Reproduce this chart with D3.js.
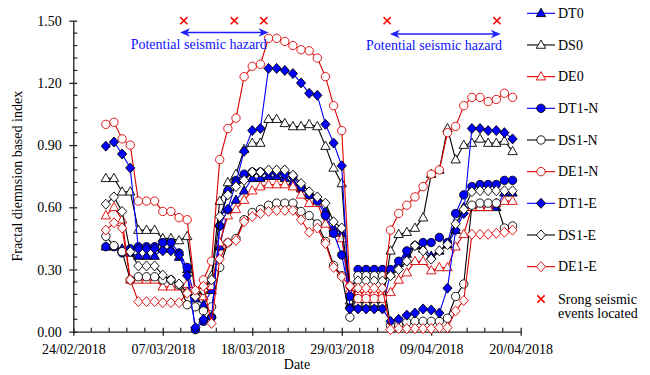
<!DOCTYPE html>
<html>
<head>
<meta charset="utf-8">
<script src="https://cdn.jsdelivr.net/npm/d3@7"></script>
<style>
  body { margin: 0; background: #fff; }
  svg, svg text { font-family: "Liberation Serif", "Times New Roman", serif; }
</style>
</head>
<body>
<div id="chart"></div>
<script>
// daily sample dates
const dates = [
  "2018-02-28", "2018-03-01", "2018-03-02", "2018-03-03", "2018-03-04", "2018-03-05", "2018-03-06",
  "2018-03-07", "2018-03-08", "2018-03-09", "2018-03-10", "2018-03-11", "2018-03-12", "2018-03-13",
  "2018-03-14", "2018-03-15", "2018-03-16", "2018-03-17", "2018-03-18", "2018-03-19", "2018-03-20",
  "2018-03-21", "2018-03-22", "2018-03-23", "2018-03-24", "2018-03-25", "2018-03-26", "2018-03-27",
  "2018-03-28", "2018-03-29", "2018-03-30", "2018-03-31", "2018-04-01", "2018-04-02", "2018-04-03",
  "2018-04-04", "2018-04-05", "2018-04-06", "2018-04-07", "2018-04-08", "2018-04-09", "2018-04-10",
  "2018-04-11", "2018-04-12", "2018-04-13", "2018-04-14", "2018-04-15", "2018-04-16", "2018-04-17",
  "2018-04-18", "2018-04-19"
];

// series values
const dt0 = [0.41, 0.41, 0.40, 0.38, 0.365, 0.365, 0.365, 0.40, 0.40, 0.36, 0.30,
  0.16, 0.13, 0.20,
  0.41, 0.59, 0.635, 0.68, 0.74, 0.74, 0.75, 0.75, 0.74, 0.72, 0.69, 0.66, 0.63, 0.58, 0.50, 0.475,
  0.13, 0.12, 0.12, 0.12, 0.12,
  0.28, 0.33, 0.375, 0.415, 0.40, 0.365, 0.39, 0.42, 0.49, 0.60, 0.60, 0.60, 0.60, 0.60, 0.67, 0.67];
const ds0 = [0.74, 0.74, 0.675, 0.675, 0.49, 0.49, 0.49, 0.45, 0.45, 0.44, 0.46,
  0.185, 0.20, 0.27,
  0.63, 0.72, 0.76, 0.88, 0.91, 0.91, 1.025, 1.025, 1.005, 0.99, 0.99, 1.00, 0.99, 0.895, 0.79, 0.715,
  0.15, 0.14, 0.14, 0.14, 0.14,
  0.39, 0.47, 0.48, 0.50, 0.55, 0.76, 0.78, 0.98, 0.83, 0.90, 0.91, 0.93, 0.91, 0.91, 0.92, 0.87];
const de0 = [0.56, 0.60, 0.54, 0.25, 0.25, 0.25, 0.25, 0.217, 0.217, 0.217, 0.23,
  0.20, 0.17, 0.22,
  0.43, 0.56, 0.59, 0.635, 0.68, 0.70, 0.71, 0.71, 0.71, 0.70, 0.66, 0.62, 0.62, 0.52, 0.475, 0.45,
  0.20, 0.19, 0.19, 0.19, 0.19,
  0.19, 0.25, 0.285, 0.34, 0.34, 0.295, 0.31, 0.31, 0.41, 0.47, 0.60, 0.60, 0.60, 0.62, 0.63, 0.63];
const dt1n = [0.41, 0.41, 0.38, 0.40, 0.41, 0.41, 0.41, 0.43, 0.43, 0.38, 0.31,
  0.01, 0.05, 0.07,
  0.51, 0.68, 0.73, 0.76, 0.77, 0.77, 0.77, 0.77, 0.76, 0.75, 0.70, 0.66, 0.63, 0.56, 0.475, 0.37,
  0.17, 0.30, 0.30, 0.30, 0.30,
  0.30, 0.34, 0.39, 0.415, 0.43, 0.43, 0.455, 0.43, 0.57, 0.66, 0.70, 0.71, 0.71, 0.71, 0.73, 0.73];
const ds1n = [0.46, 0.415, 0.386, 0.25, 0.265, 0.265, 0.265, 0.25, 0.25, 0.225, 0.13,
  0.12, 0.10, 0.12,
  0.31, 0.43, 0.45, 0.54, 0.575, 0.59, 0.61, 0.62, 0.62, 0.62, 0.58, 0.56, 0.52, 0.435, 0.32, 0.27,
  0.07, 0.27, 0.27, 0.27, 0.27,
  0.03, 0.03, 0.045, 0.05, 0.05, 0.05, 0.05, 0.065, 0.17, 0.23, 0.61, 0.62, 0.62, 0.62, 0.50, 0.51];
const de1n = [1.00, 1.01, 0.93, 0.90, 0.63, 0.63, 0.63, 0.58, 0.58, 0.55, 0.54,
  0.19, 0.25, 0.34,
  0.83, 0.98, 1.03, 1.23, 1.28, 1.29, 1.415, 1.415, 1.40, 1.38, 1.36, 1.355, 1.32, 1.23, 1.09, 0.97,
  0.22, 0.16, 0.16, 0.16, 0.16,
  0.49, 0.57, 0.61, 0.65, 0.70, 0.76, 0.78, 0.96, 0.99, 1.09, 1.13, 1.13, 1.11, 1.12, 1.15, 1.13];
const dt1e = [0.895, 0.915, 0.857, 0.79, 0.40, 0.40, 0.40, 0.39, 0.39, 0.37, 0.27,
  0.02, 0.06, 0.07,
  0.51, 0.59, 0.72, 0.87, 0.97, 0.98, 1.27, 1.27, 1.26, 1.245, 1.20, 1.15, 1.14, 1.00, 0.91, 0.80,
  0.11, 0.11, 0.11, 0.11, 0.11,
  0.05, 0.06, 0.08, 0.09, 0.11, 0.105, 0.09, 0.21, 0.49, 0.57, 0.98, 0.98, 0.97, 0.97, 0.96, 0.93];
const ds1e = [0.615, 0.65, 0.58, 0.386, 0.317, 0.317, 0.317, 0.273, 0.25, 0.23, 0.19,
  0.17, 0.20, 0.25,
  0.555, 0.66, 0.70, 0.73, 0.77, 0.77, 0.78, 0.78, 0.78, 0.755, 0.715, 0.675, 0.65, 0.62, 0.53, 0.50,
  0.22, 0.245, 0.245, 0.245, 0.245,
  0.27, 0.30, 0.34, 0.415, 0.39, 0.35, 0.39, 0.42, 0.52, 0.59, 0.675, 0.68, 0.68, 0.68, 0.68, 0.68];
const de1e = [0.49, 0.525, 0.50, 0.25, 0.145, 0.145, 0.145, 0.14, 0.14, 0.14, 0.185,
  0.20, 0.22, 0.04,
  0.35, 0.43, 0.44, 0.53, 0.555, 0.57, 0.58, 0.585, 0.585, 0.585, 0.54, 0.48, 0.50, 0.425, 0.31, 0.265,
  0.22, 0.21, 0.21, 0.21, 0.21,
  0.01, 0.015, 0.015, 0.015, 0.015, 0.015, 0.02, 0.02, 0.10, 0.15, 0.47, 0.47, 0.47, 0.475, 0.48, 0.49];

const seriesNames = ["DT0", "DS0", "DE0", "DT1-N", "DS1-N", "DE1-N", "DT1-E", "DS1-E", "DE1-E"];

// axis ticks
const xTickLabels = ["24/02/2018", "07/03/2018", "18/03/2018", "29/03/2018", "09/04/2018", "20/04/2018"];
const yTicks = [0, 0.3, 0.6, 0.9, 1.2, 1.5];

// strong seismic events (plotted on the 1.50 line)
const eventTimes = ["2018-03-09 14:00", "2018-03-15 19:00", "2018-03-19 10:00", "2018-04-03 14:00", "2018-04-17 02:00"];
const eventLevel = 1.5;

// potential seismic hazard windows
const hazardFrom = ["2018-03-09 03:00", "2018-04-03 22:00"];
const hazardTo = ["2018-03-20 00:00", "2018-04-17 13:00"];
const hazardLabel = "Potential seismic hazard";

let svgWidth = 650;
let svgHeight = 375;
let margin = { top: 20.7, left: 73.3 };
let width = 447.4;
let height = 311;

const serif = '"Liberation Serif", "Times New Roman", serif';
const blue = "#0000ff";
const red = "#dd0000";
const black = "#000000";

let svg = d3.select("#chart").append("svg")
  .attr("width", svgWidth)
  .attr("height", svgHeight)
  .style("font-family", serif);

let chartGroup = svg.append("g")
  .attr("transform", `translate(${margin.left},${margin.top})`);

const parseDay = d3.timeParse("%Y-%m-%d");
const parseTick = d3.timeParse("%d/%m/%Y");
const parseTime = d3.timeParse("%Y-%m-%d %H:%M");

const xDates = dates.map(parseDay);
const xTickDates = xTickLabels.map(parseTick);

let xScale = d3.scaleTime()
  .domain([xTickDates[0], xTickDates[xTickDates.length - 1]])
  .range([0, width]);
let yScale = d3.scaleLinear().domain([0, 1.5]).range([height, 0]);

// x axis
let xAxis = chartGroup.append("g")
  .attr("transform", `translate(0,${height})`)
  .call(d3.axisBottom(xScale)
    .tickValues(xTickDates)
    .tickFormat(d3.timeFormat("%d/%m/%Y"))
    .tickSizeOuter(0));
xAxis.attr("font-family", null).attr("font-size", null);
xAxis.select(".domain").attr("stroke", "#222").attr("stroke-width", 1.3);
xAxis.selectAll(".tick line").attr("y1", -4).attr("y2", 4).attr("stroke", "#222").attr("stroke-width", 1.3);
xAxis.selectAll(".tick text").attr("y", 22.5).attr("dy", 0)
  .attr("fill", "#000")
  .style("font-family", serif).style("font-size", "14px");

// x minor ticks, five per major step
let minorX = [];
for (let k = 1; k < 25; k++) {
  if (k % 5 === 0) continue;
  minorX.push(d3.timeHour.offset(xTickDates[0], Math.round(k * 2.2 * 24)));
}
chartGroup.append("g").selectAll("line")
  .data(minorX).enter().append("line")
  .attr("x1", d => xScale(d)).attr("x2", d => xScale(d))
  .attr("y1", height).attr("y2", height - 4)
  .attr("stroke", "#222").attr("stroke-width", 1.2);

// y axis
let yAxis = chartGroup.append("g")
  .call(d3.axisLeft(yScale)
    .tickValues(yTicks)
    .tickFormat(d3.format(".2f"))
    .tickSizeOuter(0));
yAxis.attr("font-family", null).attr("font-size", null);
yAxis.select(".domain").attr("stroke", "#222").attr("stroke-width", 1.3);
yAxis.selectAll(".tick line").attr("x1", -4).attr("x2", 4).attr("stroke", "#222").attr("stroke-width", 1.3);
yAxis.selectAll(".tick text").attr("x", -11.5).attr("dy", "0.33em")
  .attr("fill", "#000")
  .style("font-family", serif).style("font-size", "14px");

let minorY = [];
for (let k = 1; k < 25; k++) {
  if (k % 5 === 0) continue;
  minorY.push(k * 0.06);
}
chartGroup.append("g").selectAll("line")
  .data(minorY).enter().append("line")
  .attr("x1", 0).attr("x2", 4)
  .attr("y1", d => yScale(d)).attr("y2", d => yScale(d))
  .attr("stroke", "#222").attr("stroke-width", 1.2);

// axis titles
svg.append("text")
  .attr("transform", `translate(22,${margin.top + height / 2}) rotate(-90)`)
  .attr("text-anchor", "middle")
  .style("font-size", "14px")
  .text("Fractal diemnsion based index");

svg.append("text")
  .attr("x", margin.left + width / 2)
  .attr("y", 369)
  .attr("text-anchor", "middle")
  .style("font-size", "14px")
  .text("Date");

// marker shapes
function markerPath(shape) {
  if (shape === "triangle") return "M0,-5L4.7,3.3L-4.7,3.3Z";
  if (shape === "diamond") return "M0,-5L4.6,0L0,5L-4.6,0Z";
  return d3.symbol(d3.symbolCircle, 55)();
}

let seriesValues = [dt0, ds0, de0, dt1n, ds1n, de1n, dt1e, ds1e, de1e];
let shapes = ["triangle", "triangle", "triangle", "circle", "circle", "circle", "diamond", "diamond", "diamond"];
let lineColors = [blue, black, red, blue, black, red, blue, black, red];
let fills = [blue, "#fff", "#fff", blue, "#fff", "#fff", blue, "#fff", "#fff"];
let strokes = [black, black, red, black, black, red, black, black, red];

let line = d3.line()
  .x((d, i) => xScale(xDates[i]))
  .y(d => yScale(d));

seriesValues.forEach(function(values, s) {
  let grp = chartGroup.append("g");
  grp.append("path")
    .datum(values)
    .attr("d", line)
    .attr("fill", "none")
    .attr("stroke", lineColors[s])
    .attr("stroke-width", 1.1);
  grp.selectAll("path.mk")
    .data(values).enter().append("path")
    .classed("mk", true)
    .attr("transform", (d, i) => `translate(${xScale(xDates[i])},${yScale(d)})`)
    .attr("d", markerPath(shapes[s]))
    .attr("fill", fills[s])
    .attr("stroke", strokes[s])
    .attr("stroke-width", 0.9);
});

// strong seismic events
const crossPath = "M-3.6,-3.6L3.6,3.6M3.6,-3.6L-3.6,3.6";
chartGroup.append("g").selectAll("path")
  .data(eventTimes.map(parseTime)).enter().append("path")
  .attr("transform", d => `translate(${xScale(d)},${yScale(eventLevel)})`)
  .attr("d", crossPath)
  .attr("stroke", "#ff0000")
  .attr("stroke-width", 1.5)
  .attr("fill", "none");

// hazard arrows
let arrowY = [11.8, 13.3];
let labelY = [27.9, 29.4];
hazardFrom.forEach(function(f, k) {
  let x1 = xScale(parseTime(f));
  let x2 = xScale(parseTime(hazardTo[k]));
  let ay = arrowY[k];
  let ag = chartGroup.append("g");
  ag.append("line")
    .attr("x1", x1 + 3).attr("x2", x2 - 3)
    .attr("y1", ay).attr("y2", ay)
    .attr("stroke", "#2020ff").attr("stroke-width", 1.3);
  ag.append("path")
    .attr("d", `M${x1},${ay}L${x1 + 10},${ay - 4.2}L${x1 + 7},${ay}L${x1 + 10},${ay + 4.2}Z`)
    .attr("fill", "#2020ff");
  ag.append("path")
    .attr("d", `M${x2},${ay}L${x2 - 10},${ay - 4.2}L${x2 - 7},${ay}L${x2 - 10},${ay + 4.2}Z`)
    .attr("fill", "#2020ff");
});
chartGroup.append("text")
  .attr("x", 130.7 - margin.left).attr("y", labelY[0])
  .style("font-size", "14px").attr("fill", "#1010ff")
  .text(hazardLabel);
chartGroup.append("text")
  .attr("x", 366 - margin.left).attr("y", labelY[1])
  .style("font-size", "14px").attr("fill", "#1010ff")
  .text(hazardLabel);

// legend
let legend = svg.append("g");
seriesNames.forEach(function(name, s) {
  let ly = 13.3 + s * 31.67;
  let row = legend.append("g").attr("transform", `translate(527,${ly})`);
  row.append("line")
    .attr("x1", 0).attr("x2", 28).attr("y1", 0).attr("y2", 0)
    .attr("stroke", lineColors[s]).attr("stroke-width", 1.1);
  row.append("path")
    .attr("transform", "translate(14,0)")
    .attr("d", markerPath(shapes[s]))
    .attr("fill", fills[s])
    .attr("stroke", strokes[s])
    .attr("stroke-width", 0.9);
  row.append("text")
    .attr("x", 31).attr("dy", "0.33em")
    .style("font-size", "14px")
    .text(name);
});
let evRow = legend.append("g").attr("transform", "translate(527,299)");
evRow.append("path")
  .attr("transform", "translate(14,0)")
  .attr("d", crossPath)
  .attr("stroke", "#ff0000").attr("stroke-width", 1.5);
evRow.append("text").attr("x", 31).attr("dy", "0.33em").style("font-size", "14px").text("Srong seismic");
evRow.append("text").attr("x", 31).attr("y", 14.5).attr("dy", "0.33em").style("font-size", "14px").text("events located");
</script>
</body>
</html>
